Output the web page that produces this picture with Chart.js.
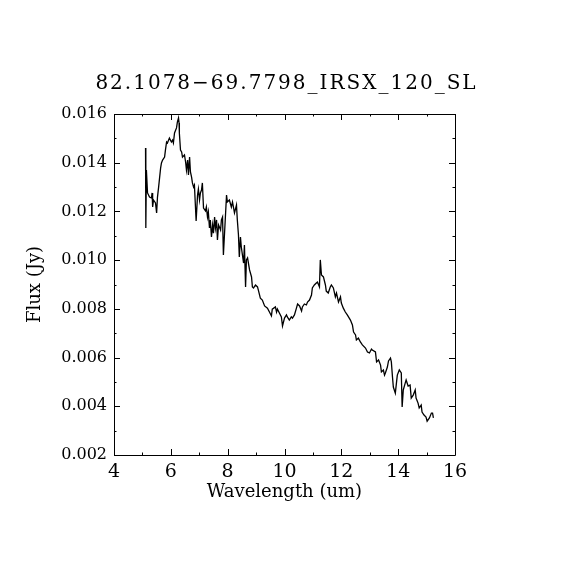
<!DOCTYPE html>
<html>
<head>
<meta charset="utf-8">
<script src="https://cdn.jsdelivr.net/npm/chart.js@4.4.1/dist/chart.umd.min.js"></script>
<style>
html,body{margin:0;padding:0;background:#fff;}
#c{display:block;}
</style>
</head>
<body>
<canvas id="c" width="570" height="570"></canvas>
<script>
const chartTitle = "82.1078\u221269.7798_IRSX_120_SL";
const xAxisTitle = "Wavelength (um)";
const yAxisTitle = "Flux (Jy)";

const wavelength = [5.11,5.12,5.14,5.18,5.25,5.32,5.34,5.36,5.39,5.46,5.50,5.53,5.57,5.64,5.67,5.71,5.78,5.81,5.85,5.88,
5.95,6.02,6.06,6.09,6.13,6.20,6.23,6.27,6.29,6.30,6.34,6.38,6.41,6.48,6.52,6.55,6.59,6.62,6.66,6.69,
6.73,6.76,6.80,6.83,6.89,6.94,6.97,7.01,7.04,7.08,7.11,7.15,7.22,7.25,7.29,7.32,7.36,7.39,7.43,7.47,
7.50,7.54,7.57,7.61,7.64,7.68,7.75,7.78,7.82,7.85,7.92,7.96,7.99,8.06,8.13,8.17,8.24,8.31,8.34,8.38,
8.41,8.45,8.48,8.56,8.59,8.63,8.66,8.70,8.77,8.84,8.87,8.91,8.98,9.05,9.08,9.15,9.22,9.30,9.40,9.47,
9.54,9.57,9.68,9.72,9.75,9.82,9.89,9.93,10.00,10.07,10.10,10.17,10.24,10.28,10.35,10.42,10.46,10.53,10.60,10.63,
10.70,10.77,10.81,10.88,10.95,10.98,11.05,11.12,11.16,11.23,11.26,11.30,11.37,11.44,11.47,11.54,11.61,11.65,11.72,11.79,
11.83,11.90,11.97,12.00,12.07,12.14,12.21,12.32,12.39,12.43,12.50,12.53,12.60,12.67,12.74,12.85,12.92,12.99,13.06,13.09,
13.20,13.24,13.31,13.38,13.41,13.48,13.52,13.55,13.62,13.66,13.73,13.76,13.80,13.83,13.90,13.94,13.97,14.04,14.11,14.14,
14.18,14.25,14.28,14.35,14.42,14.46,14.53,14.60,14.63,14.70,14.74,14.81,14.84,14.91,14.98,15.02,15.10,15.17,15.21,15.24];

const flux = [0.01460,0.01132,0.01370,0.01276,0.01259,0.01255,0.01276,0.01218,0.01247,0.01235,0.01194,0.01259,0.01300,0.01378,0.01399,0.01411,0.01423,0.01452,0.01485,0.01481,
0.01501,0.01485,0.01493,0.01481,0.01522,0.01543,0.01567,0.01584,0.01563,0.01522,0.01452,0.01444,0.01423,0.01432,0.01403,0.01370,0.01411,0.01350,0.01423,0.01362,
0.01341,0.01317,0.01300,0.01308,0.01161,0.01267,0.01292,0.01247,0.01276,0.01288,0.01317,0.01214,0.01202,0.01218,0.01177,0.01198,0.01132,0.01165,0.01095,0.01144,
0.01111,0.01177,0.01132,0.01165,0.01083,0.01144,0.01124,0.01165,0.01177,0.01021,0.01177,0.01267,0.01239,0.01247,0.01218,0.01239,0.01194,0.01226,0.01165,0.01103,
0.01013,0.01095,0.01054,0.00988,0.01062,0.00890,0.01001,0.01009,0.00960,0.00931,0.00890,0.00886,0.00898,0.00890,0.00877,0.00844,0.00836,0.00812,0.00803,0.00787,
0.00771,0.00799,0.00808,0.00787,0.00799,0.00783,0.00767,0.00730,0.00762,0.00775,0.00767,0.00754,0.00767,0.00762,0.00775,0.00803,0.00820,0.00812,0.00791,0.00808,
0.00820,0.00816,0.00828,0.00836,0.00857,0.00886,0.00898,0.00906,0.00910,0.00890,0.01001,0.00939,0.00931,0.00898,0.00873,0.00865,0.00890,0.00898,0.00886,0.00849,
0.00865,0.00828,0.00849,0.00824,0.00803,0.00787,0.00775,0.00754,0.00734,0.00705,0.00693,0.00672,0.00680,0.00664,0.00652,0.00639,0.00623,0.00619,0.00635,0.00631,
0.00623,0.00582,0.00590,0.00569,0.00541,0.00549,0.00528,0.00537,0.00561,0.00586,0.00598,0.00582,0.00520,0.00479,0.00454,0.00496,0.00528,0.00549,0.00537,0.00397,
0.00467,0.00496,0.00508,0.00483,0.00487,0.00434,0.00446,0.00467,0.00434,0.00413,0.00393,0.00405,0.00376,0.00364,0.00356,0.00339,0.00352,0.00372,0.00372,0.00352];

const xMajorTicks = [4,6,8,10,12,14,16];
const xMinorTicks = [5,7,9,11,13,15];
const yMajorTicks = [0.002,0.004,0.006,0.008,0.010,0.012,0.014,0.016];
const yMinorTicks = [0.003,0.005,0.007,0.009,0.011,0.013,0.015];

const points = wavelength.map((w,i)=>({x:w,y:flux[i]}));

const framePlugin = {
  id:'frame',
  afterDraw(chart){
    const {ctx, chartArea:a, scales:{x,y}} = chart;
    ctx.save();
    ctx.strokeStyle='#000';
    ctx.lineWidth=1;
    ctx.beginPath();
    ctx.rect(Math.round(a.left)+0.5, Math.round(a.top)+0.5, Math.round(a.right-a.left), Math.round(a.bottom-a.top));
    ctx.stroke();
    const MAJ=6, MIN=2.5;
    ctx.beginPath();
    const xt=(v,len)=>{const px=Math.round(x.getPixelForValue(v))+0.5;
      ctx.moveTo(px,a.bottom);ctx.lineTo(px,a.bottom-len);
      ctx.moveTo(px,a.top);ctx.lineTo(px,a.top+len);};
    const yt=(v,len)=>{const py=Math.round(y.getPixelForValue(v))+0.5;
      ctx.moveTo(a.left,py);ctx.lineTo(a.left+len,py);
      ctx.moveTo(a.right,py);ctx.lineTo(a.right-len,py);};
    xMajorTicks.forEach(v=>xt(v,MAJ));
    xMinorTicks.forEach(v=>xt(v,MIN));
    yMajorTicks.forEach(v=>yt(v,MAJ));
    yMinorTicks.forEach(v=>yt(v,MIN));
    ctx.stroke();
    // title
    ctx.fillStyle='#000';
    ctx.font='20px "DejaVu Serif"';
    ctx.textAlign='center';
    ctx.textBaseline='middle';
    try{ctx.letterSpacing='2px';}catch(e){}
    ctx.fillText(chartTitle, (a.left+a.right)/2+2, 84);
    ctx.restore();
  }
};

new Chart(document.getElementById('c'),{
  type:'scatter',
  data:{datasets:[{data:points,showLine:true,borderColor:'#000',borderWidth:1.3,pointRadius:0,tension:0,fill:false}]},
  options:{
    responsive:false,
    devicePixelRatio:1,
    animation:false,
    layout:{padding:{top:114,right:115,left:0,bottom:0}},
    plugins:{legend:{display:false},tooltip:{enabled:false},title:{display:false}},
    scales:{
      x:{type:'linear',min:4,max:16,
        afterFit(s){s.height=115;},
        afterBuildTicks(s){s.ticks=xMajorTicks.map(v=>({value:v}));},
        grid:{display:false,drawTicks:false},border:{display:false},
        ticks:{color:'#000',padding:6,font:{family:'DejaVu Serif',size:19},callback:v=>String(v),maxRotation:0,autoSkip:false},
        title:{display:true,text:xAxisTitle,color:'#000',font:{family:'DejaVu Serif',size:18},padding:{bottom:67,top:0}}
      },
      y:{type:'linear',min:0.002,max:0.016,
        afterFit(s){s.width=114;},
        afterBuildTicks(s){s.ticks=yMajorTicks.map(v=>({value:v}));},
        grid:{display:false,drawTicks:false},border:{display:false},
        ticks:{color:'#000',padding:7,font:{family:'DejaVu Serif',size:16},callback:v=>v.toFixed(3),autoSkip:false},
        title:{display:true,text:yAxisTitle,color:'#000',font:{family:'DejaVu Serif',size:18},padding:{top:25,bottom:0}}
      }
    }
  },
  plugins:[framePlugin]
});
</script>
</body>
</html>
